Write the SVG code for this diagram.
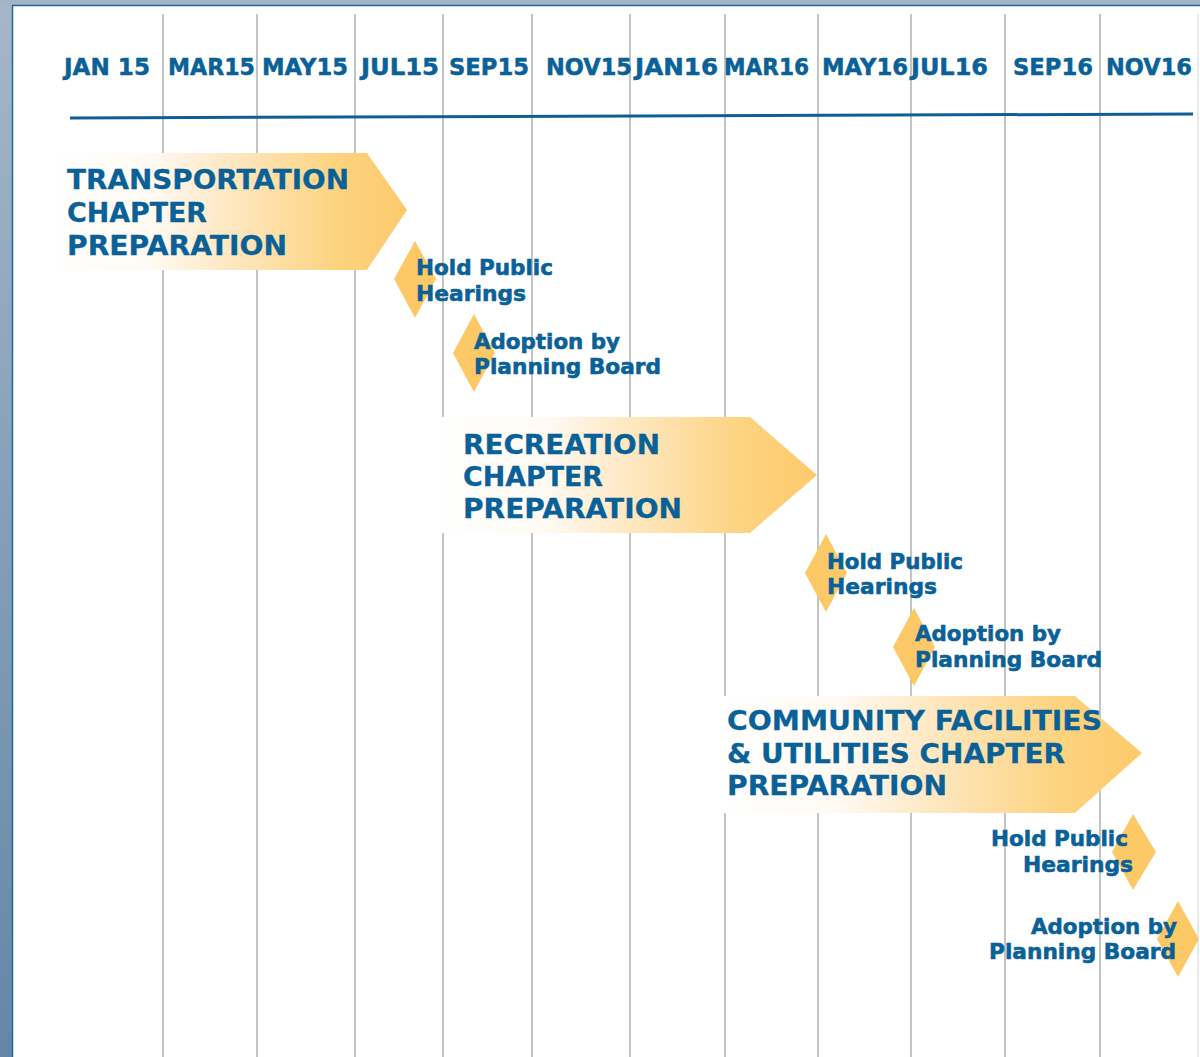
<svg xmlns="http://www.w3.org/2000/svg" width="1200" height="1057" viewBox="0 0 1200 1057">
<defs>
<linearGradient id="bg" x1="0" y1="0" x2="0" y2="1">
<stop offset="0" stop-color="#a5b7c7"/>
<stop offset="1" stop-color="#6586a6"/>
</linearGradient>
<linearGradient id="arrowFill" x1="0" y1="0" x2="1" y2="0">
<stop offset="0" stop-color="#ffffff"/>
<stop offset="0.28" stop-color="#fffaf3"/>
<stop offset="0.5" stop-color="#fee8c2"/>
<stop offset="0.8" stop-color="#fdd380"/>
<stop offset="1" stop-color="#fdca6c"/>
</linearGradient>
<style>
.grid line{stroke:#c4c4c4;stroke-width:2}
.hdr{font-family:"DejaVu Sans","Liberation Sans",sans-serif;font-weight:bold;font-size:23px;fill:#0a6198;stroke:#0a6198;stroke-width:0.5}
.chap{font-family:"DejaVu Sans","Liberation Sans",sans-serif;font-weight:bold;font-size:27px;fill:#0a6198;stroke:#0a6198;stroke-width:0.3}
.ms{font-family:"DejaVu Sans","Liberation Sans",sans-serif;font-weight:bold;font-size:22px;fill:#0a6198;stroke:#0a6198;stroke-width:0.6}
.arrow{fill:url(#arrowFill)}
.dia{fill:#fdc966}
</style>
</defs>
<rect x="0" y="0" width="1200" height="1057" fill="url(#bg)"/>
<rect x="0" y="0" width="1200" height="6" fill="#a3b5c5"/>
<rect x="12" y="5" width="1188" height="1052" fill="#ffffff"/>
<line x1="12.5" y1="5" x2="12.5" y2="1057" stroke="#1b6aa0" stroke-width="1.5"/>
<line x1="12" y1="5.5" x2="1200" y2="5.5" stroke="#1b6aa0" stroke-width="1.5"/>
<line x1="1198" y1="14" x2="1198" y2="1057" stroke="#dde3e8" stroke-width="1.5"/>
<g class="grid" id="grid">
<line x1="163" y1="14" x2="163" y2="1057"/>
<line x1="257" y1="14" x2="257" y2="1057"/>
<line x1="355" y1="14" x2="355" y2="1057"/>
<line x1="443" y1="14" x2="443" y2="1057"/>
<line x1="532" y1="14" x2="532" y2="1057"/>
<line x1="630" y1="14" x2="630" y2="1057"/>
<line x1="725" y1="14" x2="725" y2="1057"/>
<line x1="818" y1="14" x2="818" y2="1057"/>
<line x1="911" y1="14" x2="911" y2="1057"/>
<line x1="1005" y1="14" x2="1005" y2="1057"/>
<line x1="1100" y1="14" x2="1100" y2="1057"/>
</g>
<g id="headers">
<text class="hdr" x="64" y="75" textLength="86" lengthAdjust="spacingAndGlyphs">JAN 15</text>
<text class="hdr" x="168" y="75" textLength="87" lengthAdjust="spacingAndGlyphs">MAR15</text>
<text class="hdr" x="262" y="75" textLength="86" lengthAdjust="spacingAndGlyphs">MAY15</text>
<text class="hdr" x="361" y="75" textLength="78" lengthAdjust="spacingAndGlyphs">JUL15</text>
<text class="hdr" x="449" y="75" textLength="80" lengthAdjust="spacingAndGlyphs">SEP15</text>
<text class="hdr" x="546" y="75" textLength="86" lengthAdjust="spacingAndGlyphs">NOV15</text>
<text class="hdr" x="635" y="75" textLength="83" lengthAdjust="spacingAndGlyphs">JAN16</text>
<text class="hdr" x="724" y="75" textLength="85" lengthAdjust="spacingAndGlyphs">MAR16</text>
<text class="hdr" x="822" y="75" textLength="86" lengthAdjust="spacingAndGlyphs">MAY16</text>
<text class="hdr" x="911" y="75" textLength="77" lengthAdjust="spacingAndGlyphs">JUL16</text>
<text class="hdr" x="1013" y="75" textLength="80" lengthAdjust="spacingAndGlyphs">SEP16</text>
<text class="hdr" x="1106" y="75" textLength="86" lengthAdjust="spacingAndGlyphs">NOV16</text>
</g>
<g id="connectors">
<line id="axis" x1="70" y1="118" x2="1193" y2="114" stroke="#0f5f94" stroke-width="3"/>
</g>
<g id="transportation">
<polygon class="arrow" points="50,153 367,153 407,210 367,270 50,270"/>
<text class="chap" x="67" y="189" textLength="282" lengthAdjust="spacingAndGlyphs">TRANSPORTATION</text>
<text class="chap" x="67" y="222" textLength="140" lengthAdjust="spacingAndGlyphs">CHAPTER</text>
<text class="chap" x="67" y="255" textLength="220" lengthAdjust="spacingAndGlyphs">PREPARATION</text>
</g>
<g id="hearings1">
<polygon class="dia" points="415,241 436,279 415,318 394,279"/>
<text class="ms" x="416" y="275" textLength="137" lengthAdjust="spacingAndGlyphs">Hold Public</text>
<text class="ms" x="416" y="301" textLength="110" lengthAdjust="spacingAndGlyphs">Hearings</text>
</g>
<g id="adoption1">
<polygon class="dia" points="474,314 495,353 474,392 453,353"/>
<text class="ms" x="474" y="349" textLength="146" lengthAdjust="spacingAndGlyphs">Adoption by</text>
<text class="ms" x="474" y="374" textLength="187" lengthAdjust="spacingAndGlyphs">Planning Board</text>
</g>
<g id="recreation">
<polygon class="arrow" points="440,417 750,417 817,475 750,533 440,533"/>
<text class="chap" x="463" y="454" textLength="197" lengthAdjust="spacingAndGlyphs">RECREATION</text>
<text class="chap" x="463" y="486" textLength="140" lengthAdjust="spacingAndGlyphs">CHAPTER</text>
<text class="chap" x="463" y="518" textLength="219" lengthAdjust="spacingAndGlyphs">PREPARATION</text>
</g>
<g id="hearings2">
<polygon class="dia" points="826,534 847,573 826,612 805,573"/>
<text class="ms" x="827" y="569" textLength="136" lengthAdjust="spacingAndGlyphs">Hold Public</text>
<text class="ms" x="827" y="594" textLength="110" lengthAdjust="spacingAndGlyphs">Hearings</text>
</g>
<g id="adoption2">
<polygon class="dia" points="914,608 935,647 914,686 893,647"/>
<text class="ms" x="915" y="641" textLength="146" lengthAdjust="spacingAndGlyphs">Adoption by</text>
<text class="ms" x="915" y="667" textLength="187" lengthAdjust="spacingAndGlyphs">Planning Board</text>
</g>
<g id="community">
<polygon class="arrow" points="720,696 1075,696 1142,753 1075,813 720,813"/>
<text class="chap" x="727" y="730" textLength="375" lengthAdjust="spacingAndGlyphs">COMMUNITY FACILITIES</text>
<text class="chap" x="727" y="763" textLength="338" lengthAdjust="spacingAndGlyphs">&amp; UTILITIES CHAPTER</text>
<text class="chap" x="727" y="795" textLength="220" lengthAdjust="spacingAndGlyphs">PREPARATION</text>
</g>
<g id="hearings3">
<polygon class="dia" points="1133,814 1156,852 1133,890 1112,852"/>
<text class="ms" x="991" y="846" textLength="137" lengthAdjust="spacingAndGlyphs">Hold Public</text>
<text class="ms" x="1023" y="872" textLength="110" lengthAdjust="spacingAndGlyphs">Hearings</text>
</g>
<g id="adoption3">
<polygon class="dia" points="1178,901 1199,939 1178,977 1157,939"/>
<text class="ms" x="1031" y="934" textLength="146" lengthAdjust="spacingAndGlyphs">Adoption by</text>
<text class="ms" x="989" y="959" textLength="187" lengthAdjust="spacingAndGlyphs">Planning Board</text>
</g>
</svg>
